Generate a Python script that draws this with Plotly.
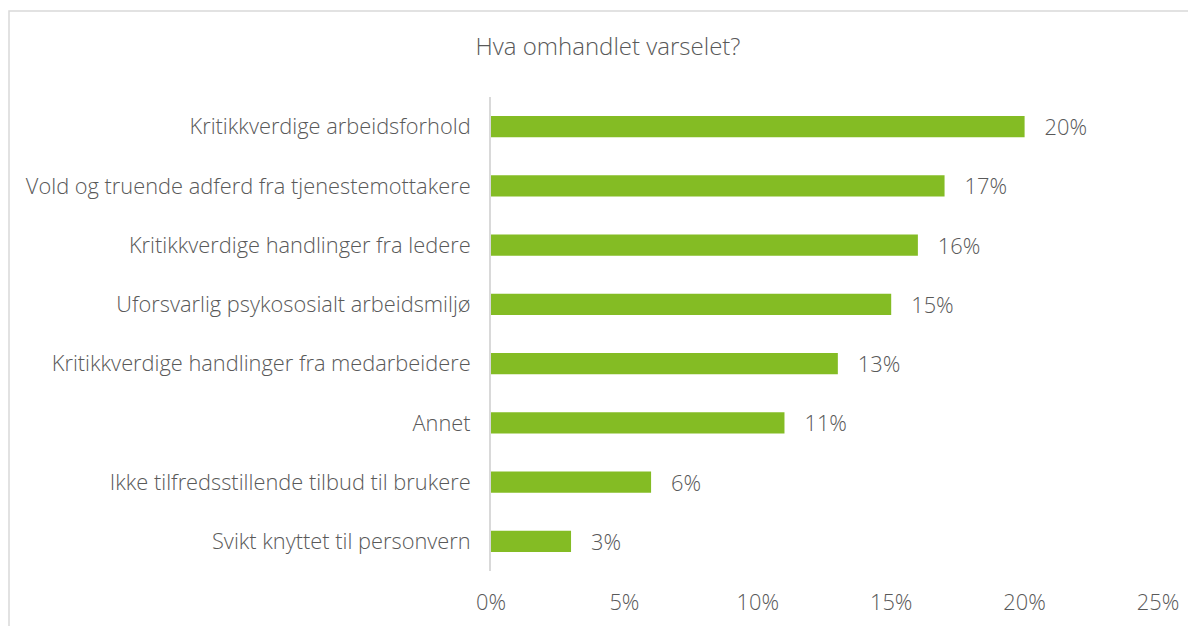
import plotly.graph_objects as go

categories = [
    "Kritikkverdige arbeidsforhold",
    "Vold og truende adferd fra tjenestemottakere",
    "Kritikkverdige handlinger fra ledere",
    "Uforsvarlig psykososialt arbeidsmiljø",
    "Kritikkverdige handlinger fra medarbeidere",
    "Annet",
    "Ikke tilfredsstillende tilbud til brukere",
    "Svikt knyttet til personvern",
]
values = [20, 17, 16, 15, 13, 11, 6, 3]
tick_vals = [0, 5, 10, 15, 20, 25]
tick_text = ["0%", "5%", "10%", "15%", "20%", "25%"]

W, H = 1196, 626
OFF = 8  # page body offset
ML, MR, MT, MB = 483, 46, 89, 63
FONT = "Open Sans"
GREY = "#595959"
FS = 21.8

fig = go.Figure()
fig.add_trace(go.Bar(
    y=categories,
    x=values,
    orientation="h",
    marker=dict(color="#84BC24", line=dict(width=0)),
    width=0.36,
    text=[f"{v}%" for v in values],
    texttemplate="   %{text}",
    textposition="outside",
    constraintext="none",
    textfont=dict(family=FONT, size=FS, color=GREY, weight=300),
    cliponaxis=False,
    hoverinfo="skip",
))

pw = W - ML - MR
ph = H - MT - MB
fig.add_shape(
    type="rect", xref="paper", yref="paper",
    x0=(1 - ML) / pw, x1=(W + 20 - ML) / pw,
    y0=-(MB + 20) / ph, y1=(H - 3 - MB) / ph,
    line=dict(color="#D9D9D9", width=1.5), fillcolor="rgba(0,0,0,0)",
    layer="below",
)

fig.update_layout(
    width=W, height=H,
    margin=dict(l=ML, r=MR, t=MT, b=MB),
    paper_bgcolor="white", plot_bgcolor="white",
    showlegend=False,
    title=dict(text="Hva omhandlet varselet?", x=(608 - OFF) / W, xref="container", xanchor="center",
               y=1 - (47 - OFF) / H, yref="container", yanchor="middle",
               font=dict(family=FONT, size=24, color=GREY, weight=300)),
    xaxis=dict(range=[0, 25], tickvals=tick_vals, ticktext=tick_text,
               showgrid=False, zeroline=False, showline=False,
               tickfont=dict(family=FONT, size=FS, color=GREY, weight=300), ticks="",
               ticklabelstandoff=16),
    yaxis=dict(categoryorder="array", categoryarray=categories[::-1],
               showgrid=False, zeroline=False, showline=True, linecolor="#D9D9D9", linewidth=2,
               tickfont=dict(family=FONT, size=FS, color=GREY, weight=300), ticks="",
               ticklabelstandoff=14),
)

fig.write_html("out.html")
